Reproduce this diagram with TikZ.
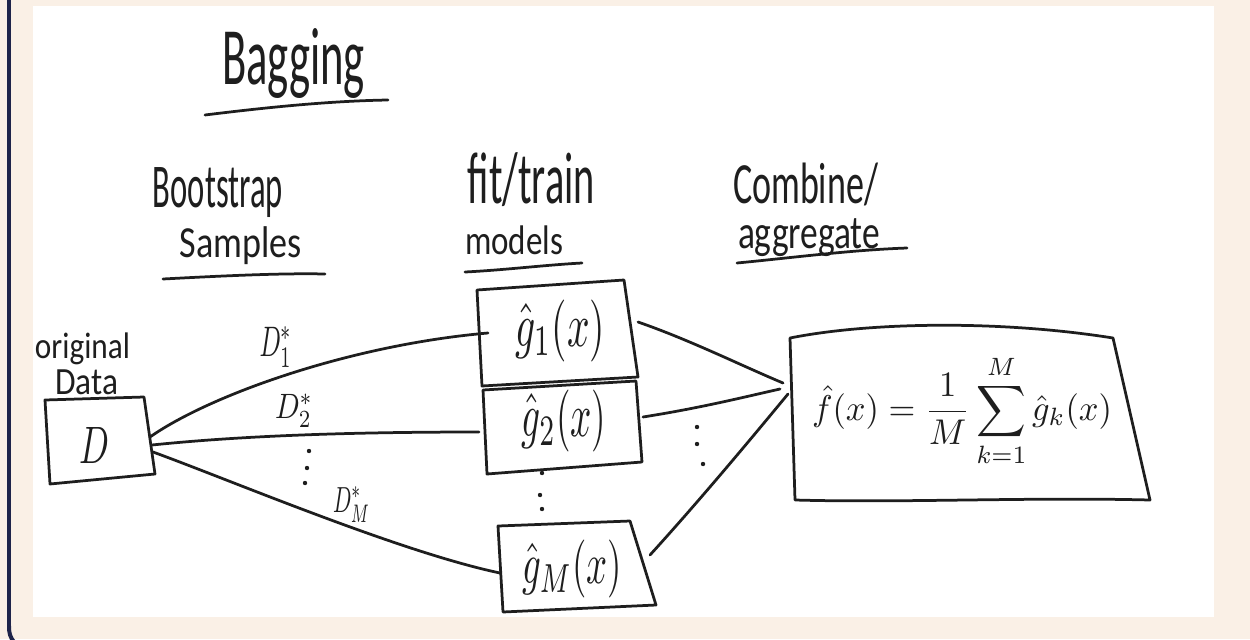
\documentclass[tikz,border=0pt]{standalone}
\usepackage{fontspec}
\setmainfont{Carlito}
\usepackage{graphicx}
\newlength\px
\setlength\px{0.02cm}
% squeeze a piece of lettering into a given width and total height (in px units)
\newcommand\handtext[3]{\resizebox*{#1\px}{#2\px}{#3}}
\definecolor{linen}{RGB}{250,240,230}
\definecolor{framenavy}{RGB}{30,36,74}
\definecolor{inkc}{RGB}{30,30,30}
\begin{document}
\begin{tikzpicture}[x=0.02cm,y=-0.02cm,
  ink/.style={draw=inkc, line width=0.055cm, line cap=round, line join=round},
  lbl/.style={inner sep=0pt, outer sep=0pt, text=inkc},
  dotmark/.style={fill=inkc}]
\useasboundingbox (0,0) rectangle (1250,639);
\clip (0,0) rectangle (1250,639);

% page background, paper sheet and frame edge
\fill[linen] (0,0) rectangle (1250,639);
\fill[white] (33,6) rectangle (1214,617);
\draw[framenavy, line width=0.08cm] (9,-40) -- (9,626) .. controls (9,633) and (10,637) .. (14,642);

% headings
\node[lbl] (title) at (293.5,63) {\handtext{143}{70}{Bagging}};
\draw[ink] (205,115) .. controls (270,107) and (330,101) .. (388,100);

\node[lbl] (boot) at (218,193) {\handtext{130}{50}{Bootstrap}};
\node[lbl] (samp) at (241,246) {\handtext{122}{38}{Samples}};
\draw[ink] (163,279) .. controls (220,276) and (280,273) .. (325,274);

\node[lbl] (fit) at (531.5,180) {\handtext{127}{54}{fit/train}};
\node[lbl] (mod) at (514,240.5) {\handtext{98}{29}{models}};
\draw[ink] (465,272) .. controls (505,270) and (545,265) .. (582,263);

\node[lbl] (comb) at (805.5,184.5) {\handtext{145}{43}{Combine/}};
\node[lbl] (aggr) at (809,238) {\handtext{142}{38}{aggregate}};
\draw[ink] (737,263) .. controls (790,258) and (850,250) .. (907,248);

% original data
\node[lbl] (orig) at (82.5,349) {\handtext{95}{32}{original}};
\node[lbl] (data) at (86.5,382.5) {\handtext{63}{25}{Data}};
\draw[ink] (45,400) -- (144,397) -- (155,474) -- (50,484) -- cycle;
\node[lbl] (dset) at (94,445) {\handtext{30}{36}{$D$}};

% fitted models
\draw[ink] (477,290) -- (624,280) -- (638,377) -- (482,386) -- cycle;
\node[lbl] (g1) at (560,331) {\handtext{90}{62}{$\hat{g}_1(x)$}};
\draw[ink] (483,390) -- (636,381) -- (642,462) -- (487,474) -- cycle;
\node[lbl] (g2) at (564,421) {\handtext{85}{62}{$\hat{g}_2(x)$}};
\draw[ink] (498,526) -- (630,521) -- (656,605) -- (503,612) -- cycle;
\node[lbl] (gM) at (572,569) {\handtext{100}{58}{$\hat{g}_M(x)$}};

% aggregated model
\draw[ink] (790,338) .. controls (870,322) and (1000,320) .. (1113,338)
  -- (1150,500) .. controls (1030,497) and (900,503) .. (795,500) -- cycle;
\node[lbl] (agg) at (962,411) {\handtext{300}{112}{$\displaystyle\hat{f}(x)=\frac{1}{M}\sum_{k=1}^{M}\hat{g}_k(x)$}};

% connector end points
\coordinate (dA) at (150,437);
\coordinate (dB) at (152,445);
\coordinate (dC) at (153,452);
\coordinate (g1in) at (488,333);
\coordinate (g2in) at (479,432);
\coordinate (gMin) at (500,573);
\coordinate (g1out) at (638,322);
\coordinate (g2out) at (643,417);
\coordinate (gMout) at (650,555);
\coordinate (fin1) at (783,383);
\coordinate (fin2) at (780,389);
\coordinate (fin3) at (788,394);

% bootstrap samples
\draw[ink] (dA) .. controls (210,395) and (350,345) .. (g1in);
\draw[ink] (dB) .. controls (230,437) and (330,432) .. (g2in);
\draw[ink] (dC) .. controls (230,480) and (400,552) .. (gMin);
\node[lbl] (s1) at (276,347) {\handtext{33}{40}{$D_1^*$}};
\node[lbl] (s2) at (294,411) {\handtext{38}{33}{$D_2^*$}};
\node[lbl] (sM) at (351.5,504.5) {\handtext{37}{35}{$D_M^*$}};

% aggregation
\draw[ink] (g1out) .. controls (690,340) and (740,365) .. (fin1);
\draw[ink] (g2out) .. controls (700,408) and (740,398) .. (fin2);
\draw[ink] (gMout) .. controls (700,500) and (750,440) .. (fin3);

% ellipsis dots
\foreach \p in {(309,451),(307,468),(305,483),
                (542,473),(540,495),(542,509),
                (697,427),(697,444),(703,464)}
  \fill[dotmark] \p circle (2.2);
\end{tikzpicture}
\end{document}
